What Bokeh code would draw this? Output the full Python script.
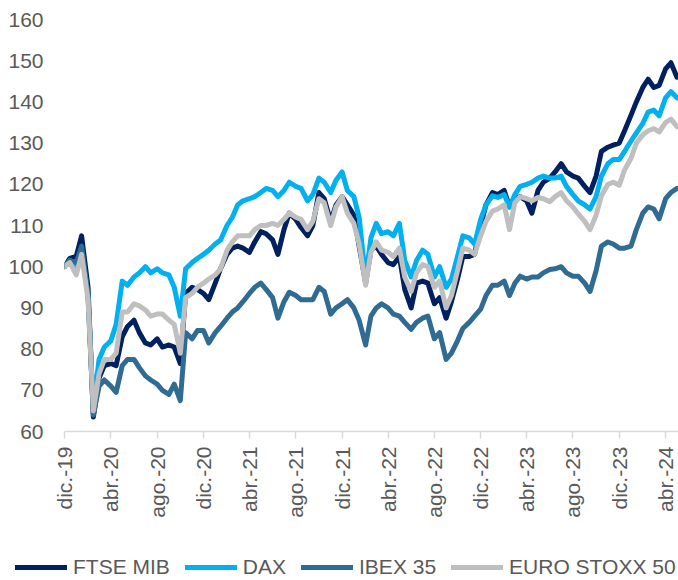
import pandas as pd
from bokeh.plotting import figure
from bokeh.layouts import column, row
from bokeh.models import FixedTicker, Legend, LegendItem, ColumnDataSource, Range1d
from bokeh.embed import file_html
from bokeh.resources import INLINE
from math import pi

# semi-monthly observation dates (1st and 15th of each month)
dates = pd.date_range("2019-12-01", periods=107, freq="SMS")

ftse_mib = [100, 102, 102.5, 107.5, 95, 63.5, 73, 76, 76.5, 76, 83, 85.5, 87, 84, 81.5, 81, 82.5, 80.5, 81, 80.5,
            76.5, 93.5, 95, 94.5, 93.5, 92, 96, 99.5, 103, 104.5, 105, 104.5, 103.5, 106, 108.5, 108, 106.5, 103, 109, 113,
            111.5, 109.5, 107.5, 110, 118, 116.5, 111, 115, 117, 115, 112.5, 105, 96, 104, 105, 103, 101, 100.5, 102.5, 94.5,
            90, 96, 96.5, 96, 91, 92.5, 87.5, 91.5, 97, 102.5, 102.5, 103, 110, 115, 118, 117.5, 118.5, 114.5, 116.5, 117,
            116, 113, 118.5, 120.5, 121.5, 123, 125, 123, 122, 121.5, 119.5, 118, 122, 128, 129, 129.5, 130, 133, 136.8, 140,
            143.5, 145.5, 143.5, 144, 148, 149.5, 146]
dax = [100, 101.5, 100, 104, 93, 66, 77.5, 80.5, 82, 86, 96.5, 95.5, 97.5, 98.5, 100, 98.5, 99.5, 98.5, 98, 95,
       88, 99.5, 101, 102, 103, 104, 105.5, 106.5, 110, 112, 115, 116, 116.5, 117, 118, 119, 118.5, 117, 118.5, 120.5,
       119.5, 119, 116, 117.5, 121.5, 120.5, 118, 121, 123, 118.5, 117, 112, 97, 107, 110.5, 108, 108.5, 107.5, 110.5, 101.5,
       97.5, 101.5, 104, 103, 97.5, 100, 95, 97, 102.5, 107.5, 107, 105.5, 111.5, 115, 117.2, 116.8, 117.5, 114.5, 117.5, 119.5,
       120, 120.5, 121.5, 122, 121.5, 121.5, 122, 119.5, 117.5, 116, 115, 114, 117, 122, 125, 126, 126, 128, 130.5, 132.5,
       134.8, 137.5, 138, 136.6, 141, 142.5, 141]
ibex_35 = [100, 101.5, 101, 105, 93, 64, 71, 72.5, 71, 69.5, 76, 77.5, 77.5, 75.5, 73.5, 72.5, 71.5, 70, 69, 71.5,
           67.5, 84, 82.5, 84.5, 84.5, 81.5, 84, 85.5, 87.5, 89, 90, 91.5, 93.5, 95, 96, 94.5, 92.5, 87.5, 91.5, 93.8,
           93, 92, 92, 92, 95, 94, 88.5, 90, 91, 92, 90, 87, 81, 88, 90, 91, 90, 88.5, 88, 86.5,
           84.8, 86.5, 87.5, 88, 82.5, 84, 77.5, 79, 82, 85, 86.5, 88, 89.7, 93, 95.5, 95.5, 96.5, 93, 96, 97.7,
           97, 97.5, 97.5, 98.5, 99.3, 99.5, 100, 98.5, 97.7, 97.7, 96, 94, 99, 105, 106, 105.5, 104.5, 104.5, 105, 109,
           113, 114.5, 114, 111.6, 116.5, 118, 119]
euro_stoxx_50 = [100, 101, 98, 103, 92, 65, 74, 77.5, 77.5, 79, 89, 89, 91, 90.5, 89.5, 88, 88.5, 88.5, 87, 86,
                 79, 92.5, 93.5, 95, 96, 97, 98, 99.5, 104, 106, 107.5, 107.5, 107.5, 109, 110, 110, 110.5, 110, 111.5, 113,
                 112, 111.5, 109, 111, 116.5, 115.5, 110, 114.5, 117, 113, 110.5, 105.5, 95.5, 103.5, 106, 104, 103.5, 102.5, 104.5, 97.5,
                 94, 98.5, 100.5, 100, 95, 96.5, 90, 93, 99, 104.5, 104, 103, 107.5, 111, 113.5, 114, 115, 109, 115.5, 117,
                 116.5, 116, 116.8, 116.5, 115.8, 117, 118, 116, 114.5, 112.8, 111, 109, 112.5, 117.2, 120, 120.5, 119.8, 123.5, 126.3, 130,
                 132, 133, 133.5, 132.7, 135, 135.8, 134]

series_names = ["FTSE MIB", "DAX", "IBEX 35", "EURO STOXX 50"]
series_values = [ftse_mib, dax, ibex_35, euro_stoxx_50]
series_colors = ["#002060", "#00B0F0", "#2F6B93", "#BFBFBF"]

tick_dates = ["2019-12-01", "2020-04-01", "2020-08-01", "2020-12-01", "2021-04-01", "2021-08-01", "2021-12-01",
              "2022-04-01", "2022-08-01", "2022-12-01", "2023-04-01", "2023-08-01", "2023-12-01", "2024-04-01"]
tick_labels = ["dic.-19", "abr.-20", "ago.-20", "dic.-20", "abr.-21", "ago.-21", "dic.-21",
               "abr.-22", "ago.-22", "dic.-22", "abr.-23", "ago.-23", "dic.-23", "abr.-24"]
y_ticks = [60, 70, 80, 90, 100, 110, 120, 130, 140, 150, 160]


def ms(d):
    return float(pd.Timestamp(d).value // 10**6)


p = figure(width=678, height=554, x_axis_type="datetime", output_backend="svg", toolbar_location=None,
           min_border_left=64, min_border_right=0, min_border_top=19, min_border_bottom=123)
p.x_range = Range1d(ms("2019-12-01"), ms("2024-05-05"))
p.y_range = Range1d(60, 160)
p.outline_line_color = None
p.background_fill_color = "white"
p.xgrid.grid_line_color = None
p.ygrid.grid_line_color = None

for name, vals, col in zip(series_names, series_values, series_colors):
    src = ColumnDataSource(dict(x=dates, y=vals))
    p.line("x", "y", source=src, line_color=col, line_width=5, line_join="round", line_cap="round")

tick_ms = [ms(d) for d in tick_dates]
p.xaxis.ticker = FixedTicker(ticks=tick_ms)
p.xaxis.major_label_overrides = {t: lab for t, lab in zip(tick_ms, tick_labels)}
p.xaxis.major_label_orientation = pi / 2
p.xaxis.axis_line_color = "#D9D9D9"
p.xaxis.axis_line_width = 1.5
p.xaxis.major_tick_line_color = "#D9D9D9"
p.xaxis.major_tick_line_width = 1.5
p.xaxis.major_tick_out = 7
p.xaxis.major_tick_in = 0
p.xaxis.minor_tick_line_color = None
p.xaxis.major_label_standoff = 8
p.xaxis.major_label_text_font = "Liberation Sans"
p.xaxis.major_label_text_font_size = "21px"
p.xaxis.major_label_text_color = "#595959"

p.yaxis.ticker = FixedTicker(ticks=y_ticks)
p.yaxis.axis_line_color = None
p.yaxis.major_tick_line_color = None
p.yaxis.minor_tick_line_color = None
p.yaxis.major_tick_out = 0
p.yaxis.major_tick_in = 0
p.yaxis.major_label_standoff = 21
p.yaxis.major_label_text_font = "Liberation Sans"
p.yaxis.major_label_text_font_size = "21px"
p.yaxis.major_label_text_color = "#595959"

# legend strip below the chart
lg = figure(width=678, height=26, output_backend="svg", toolbar_location=None,
            x_axis_location=None, y_axis_location=None,
            min_border_left=0, min_border_right=0, min_border_top=0, min_border_bottom=0,
            x_range=Range1d(0, 1), y_range=Range1d(0, 1))
lg.grid.visible = False
lg.outline_line_color = None
leg_renderers = []
for name, col in zip(series_names, series_colors):
    r = lg.line(x=[-10, -9], y=[-10, -9], line_color=col, line_width=5, line_cap="round")
    leg_renderers.append(r)

legend = Legend(items=[LegendItem(label=n, renderers=[r]) for n, r in zip(series_names, leg_renderers)],
                orientation="horizontal", location="left", padding=0, margin=15, spacing=15,
                glyph_width=52, glyph_height=20, label_height=20, label_standoff=6,
                label_text_font="Liberation Sans", label_text_font_size="21px", label_text_color="#595959",
                border_line_color=None, background_fill_alpha=0)
lg.add_layout(legend, "center")

layout = column(p, row(lg, spacing=0), spacing=0)
open("out.html", "w").write(file_html(layout, INLINE))
